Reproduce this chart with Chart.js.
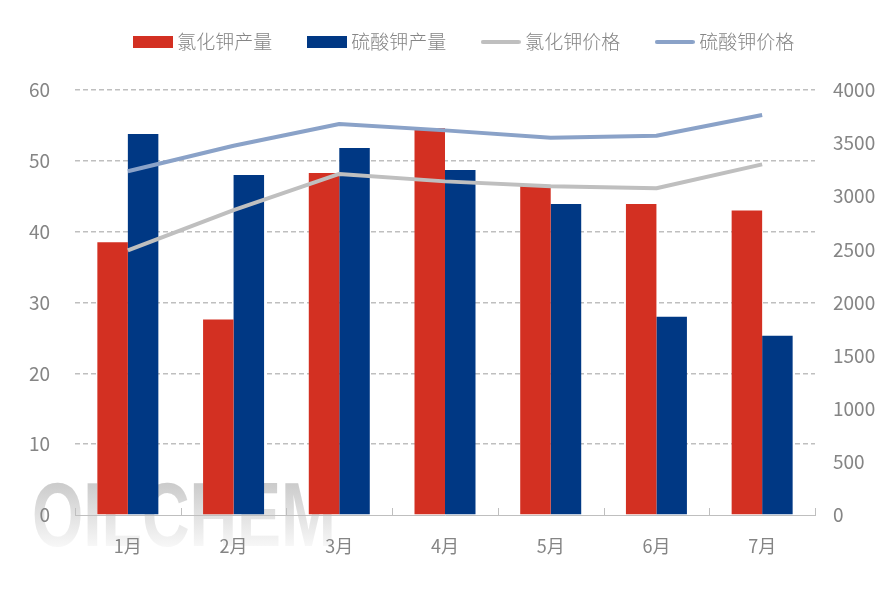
<!DOCTYPE html>
<html>
<head>
<meta charset="utf-8">
<style>
  html, body { margin: 0; padding: 0; background: #fff; }
  #wrap { width: 886px; height: 591px; }
</style>
<script src="https://cdn.jsdelivr.net/npm/chart.js@4"></script>
</head>
<body>
<div id="wrap"><canvas id="chart" width="886" height="591"></canvas></div>
<script>
// ─── DATA ─────────────────────────────────────────────────
const months = ['1月', '2月', '3月', '4月', '5月', '6月', '7月'];
const kclOutput = [38.5, 27.6, 48.3, 54.6, 46.6, 43.9, 43.0];
const sopOutput = [53.8, 48.0, 51.8, 48.7, 43.9, 28.0, 25.3];
const kclPrice  = [2490, 2870, 3210, 3140, 3095, 3075, 3300];
const sopPrice  = [3235, 3475, 3680, 3620, 3550, 3570, 3765];

const FONT = "'Noto Sans CJK SC', 'Noto Sans', sans-serif";
const TXT = '#858585';
const AXIS = '#bfbfbf';

// legend swatches, same size for bars and lines
function swatch(color, isLine) {
    const c = document.createElement('canvas');
    c.width = 40; c.height = 12;
    const g = c.getContext('2d');
    g.fillStyle = color;
    if (isLine) {
        g.strokeStyle = color;
        g.lineWidth = 4;
        g.lineCap = 'round';
        g.beginPath(); g.moveTo(2, 6); g.lineTo(38, 6); g.stroke();
    } else {
        g.fillRect(0, 0, 40, 12);
    }
    return c;
}

// ── watermark behind everything ──
const watermark = {
    id: 'watermark',
    beforeDraw(chart) {
        const { ctx } = chart;
        const grad = ctx.createLinearGradient(0, 480, 0, 546);
        grad.addColorStop(0, '#c9c9c9');
        grad.addColorStop(1, '#f7f7f7');
        ctx.save();
        ctx.fillStyle = grad;
        ctx.font = "bold 90px 'Liberation Sans', sans-serif";
        ctx.textBaseline = 'alphabetic';
        ctx.fillText('OILCHEM', 32, 546, 304);
        ctx.restore();
    },
};

// ── x axis ticks point up, between the categories ──
const upTicks = {
    id: 'upTicks',
    afterDraw(chart) {
        const { ctx, scales: { x } } = chart;
        ctx.save();
        ctx.strokeStyle = AXIS;
        ctx.lineWidth = 1;
        ctx.beginPath();
        const step = x.width / months.length;
        for (let i = 0; i <= months.length; i++) {
            const px = Math.round(x.left + step * i) + 0.5;
            ctx.moveTo(px, x.top);
            ctx.lineTo(px, x.top - 7);
        }
        ctx.stroke();
        ctx.restore();
    },
};

// ── legend keeps a fixed band so the plot starts at the right height ──
const legendBand = {
    id: 'legendBand',
    beforeLayout(chart) {
        const legend = chart.legend;
        if (!legend || legend._banded) return;
        const fit = legend.fit;
        legend.fit = function () {
            fit.call(this);
            this.height = 90;
        };
        legend._banded = true;
    },
    afterLayout(chart) {
        const legend = chart.legend;
        legend.top -= 7;
        legend.left += 23;
        legend.right += 23;
    },
};

new Chart(document.getElementById('chart'), {
    type: 'bar',
    data: {
        labels: months,
        datasets: [
            { label: '氯化钾产量', data: kclOutput, backgroundColor: '#d33022', yAxisID: 'y', order: 2, barPercentage: 1, categoryPercentage: 0.577, pointStyle: swatch('#d33022', false) },
            { label: '硫酸钾产量', data: sopOutput, backgroundColor: '#003884', yAxisID: 'y', order: 2, barPercentage: 1, categoryPercentage: 0.577, pointStyle: swatch('#003884', false) },
            { label: '氯化钾价格', data: kclPrice, type: 'line', borderColor: '#bfbfbf', backgroundColor: '#bfbfbf', borderWidth: 4, borderJoinStyle: 'round', pointRadius: 0, tension: 0, yAxisID: 'y2', order: 1, pointStyle: swatch('#bfbfbf', true) },
            { label: '硫酸钾价格', data: sopPrice, type: 'line', borderColor: '#8aa2c8', backgroundColor: '#8aa2c8', borderWidth: 4, borderJoinStyle: 'round', pointRadius: 0, tension: 0, yAxisID: 'y2', order: 1, pointStyle: swatch('#8aa2c8', true) },
        ],
    },
    options: {
        responsive: false,
        animation: false,
        devicePixelRatio: 1,
        plugins: {
            legend: {
                position: 'top',
                labels: {
                    color: TXT,
                    font: { family: FONT, size: 19, weight: '300' },
                    usePointStyle: true,
                    boxHeight: 12,
                    pointStyleWidth: 30,
                    padding: 39.5,
                    sort: (a, b) => a.datasetIndex - b.datasetIndex,
                },
            },
            tooltip: { enabled: false },
        },
        scales: {
            x: {
                offset: true,
                border: { color: AXIS, width: 1 },
                grid: { display: false },
                ticks: { color: TXT, font: { family: FONT, size: 18 }, padding: 12 },
                afterFit: (s) => { s.height = 76; },
            },
            y: {
                position: 'left',
                min: 0,
                max: 60,
                border: { display: false, dash: [5, 3] },
                grid: {
                    color: (c) => (c.tick.value === 0 ? 'transparent' : AXIS),
                    lineWidth: 1.5,
                    tickLength: 0,
                },
                ticks: { stepSize: 10, color: TXT, font: { family: FONT, size: 19 }, padding: 25 },
                afterFit: (s) => { s.width = 75; },
            },
            y2: {
                position: 'right',
                min: 0,
                max: 4000,
                border: { display: false },
                grid: { display: false, tickLength: 0 },
                ticks: { stepSize: 500, color: TXT, font: { family: FONT, size: 19 }, padding: 18, callback: (v) => String(v) },
                afterFit: (s) => { s.width = 71; },
            },
        },
    },
    plugins: [watermark, upTicks, legendBand],
});
</script>
</body>
</html>
